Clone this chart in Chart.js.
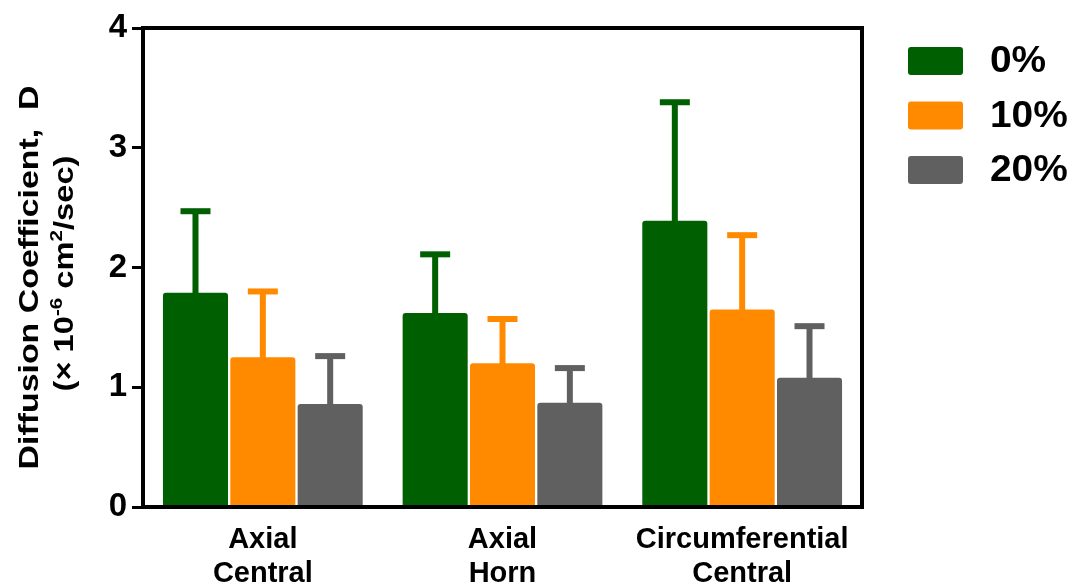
<!DOCTYPE html>
<html>
<head>
<meta charset="utf-8">
<script src="https://cdn.jsdelivr.net/npm/chart.js@4.4.1/dist/chart.umd.min.js"></script>
<style>
  html, body { margin: 0; padding: 0; background: #ffffff; }
  #wrap { width: 1072px; height: 587px; position: relative; }
</style>
</head>
<body>
<div id="wrap"><canvas id="chart" width="1072" height="587"></canvas></div>
<script>
// Sample groups along the x axis (two-line labels)
const categories = [['Axial', 'Central'], ['Axial', 'Horn'], ['Circumferential', 'Central']];
// Strain levels
const seriesLabels = ['0%', '10%', '20%'];
const seriesColors = ['#005f00', '#ff8a00', '#606060'];
// Mean diffusion coefficient (x10^-6 cm^2/sec) and standard deviation per strain level
const mean0 = [1.79, 1.62, 2.39];
const sd0 = [0.68, 0.49, 0.99];
const mean10 = [1.25, 1.20, 1.65];
const sd10 = [0.55, 0.37, 0.62];
const mean20 = [0.86, 0.87, 1.08];
const sd20 = [0.40, 0.29, 0.43];
const yTicks = [0, 1, 2, 3, 4];

const means = [mean0, mean10, mean20];
const sds = [sd0, sd10, sd20];
const FONT = "'Liberation Sans', Arial, Helvetica, sans-serif";

// Upward-only error bars with a flat cap
const errorBars = {
  id: 'errorBars',
  afterDatasetsDraw(chart) {
    const ctx = chart.ctx;
    const y = chart.scales.y;
    chart.data.datasets.forEach((ds, di) => {
      const meta = chart.getDatasetMeta(di);
      meta.data.forEach((bar, i) => {
        const top = y.getPixelForValue(ds.data[i] + ds.errorPlus[i]);
        ctx.save();
        ctx.fillStyle = ds.backgroundColor;
        ctx.fillRect(bar.x - 3, top, 6, bar.y - top + 1);
        ctx.fillRect(bar.x - 15, top - 3, 30, 6);
        ctx.restore();
      });
    });
  }
};

// Closed black frame around the plot area
const frame = {
  id: 'frame',
  afterDatasetsDraw(chart) {
    const { ctx, chartArea: a } = chart;
    ctx.save();
    ctx.strokeStyle = '#000';
    ctx.lineWidth = 4;
    ctx.strokeRect(a.left, a.top, a.right - a.left, a.bottom - a.top);
    ctx.restore();
  }
};

// Legend at the right with large swatches
const sideLegend = {
  id: 'sideLegend',
  afterDraw(chart) {
    const ctx = chart.ctx;
    ctx.save();
    chart.data.datasets.forEach((ds, i) => {
      const cy = 61 + i * 54.5;
      ctx.fillStyle = ds.backgroundColor;
      ctx.beginPath();
      ctx.roundRect(908, cy - 14, 55, 28, 3);
      ctx.fill();
      ctx.fillStyle = '#000';
      ctx.font = 'bold 37px ' + FONT;
      ctx.textBaseline = 'middle';
      ctx.textAlign = 'left';
      ctx.save();
      ctx.translate(990, cy + 1);
      ctx.scale(1.05, 1);
      ctx.fillText(ds.label, 0, 0);
      ctx.restore();
    });
    ctx.restore();
  }
};

// Rotated two-line y axis title with superscripts, set in a tall narrow face
const yTitle = {
  id: 'yTitle',
  afterDraw(chart) {
    const ctx = chart.ctx;
    const cy = (chart.chartArea.top + chart.chartArea.bottom) / 2 + 10;
    const stretch = 1.21;
    ctx.save();
    ctx.fillStyle = '#000';
    ctx.textBaseline = 'alphabetic';
    // first line
    ctx.save();
    ctx.translate(38, cy);
    ctx.rotate(-Math.PI / 2);
    ctx.scale(stretch, 1);
    ctx.font = 'bold 28px ' + FONT;
    ctx.textAlign = 'center';
    ctx.fillText('Diffusion Coefficient,  D', 0, 0);
    ctx.restore();
    // second line built from pieces
    const pieces = [
      { t: '(\u00d7 10', f: 'bold 27px ', dy: 0 },
      { t: '-6', f: 'bold 17px ', dy: -11 },
      { t: ' cm', f: 'bold 27px ', dy: 0 },
      { t: '2', f: 'bold 17px ', dy: -11 },
      { t: '/sec)', f: 'bold 27px ', dy: 0 }
    ];
    let total = 0;
    pieces.forEach(p => { ctx.font = p.f + FONT; p.w = ctx.measureText(p.t).width; total += p.w; });
    ctx.translate(73, cy - 4);
    ctx.rotate(-Math.PI / 2);
    ctx.scale(stretch, 1);
    ctx.textAlign = 'left';
    let x = -total / 2;
    pieces.forEach(p => { ctx.font = p.f + FONT; ctx.fillText(p.t, x, p.dy); x += p.w; });
    ctx.restore();
  }
};

new Chart(document.getElementById('chart'), {
  type: 'bar',
  data: {
    labels: categories,
    datasets: seriesLabels.map((label, i) => ({
      label: label,
      data: means[i],
      errorPlus: sds[i],
      backgroundColor: seriesColors[i],
      borderWidth: 0,
      borderRadius: 3,
      borderSkipped: 'bottom',
      categoryPercentage: 0.843,
      barPercentage: 0.966
    }))
  },
  options: {
    responsive: false,
    animation: false,
    events: [],
    layout: { padding: { top: 28, right: 210, left: 0, bottom: 0 } },
    plugins: { legend: { display: false }, tooltip: { enabled: false } },
    scales: {
      x: {
        afterFit(s) { s.height = 80; },
        grid: { display: false, drawTicks: false },
        border: { display: false },
        ticks: {
          color: '#000',
          padding: 16,
          maxRotation: 0,
          autoSkip: false,
          font: { family: FONT, size: 29, weight: 'bold', lineHeight: 34 / 29 }
        }
      },
      y: {
        min: 0,
        max: 4,
        afterFit(s) { s.width = 143; },
        afterBuildTicks(s) { s.ticks = yTicks.map(v => ({ value: v })); },
        grid: {
          drawOnChartArea: false,
          drawTicks: true,
          tickLength: 11,
          tickWidth: 3,
          tickColor: '#000'
        },
        border: { display: false },
        ticks: {
          color: '#000',
          padding: 5,
          font: { family: FONT, size: 33, weight: 'bold' }
        }
      }
    }
  },
  plugins: [errorBars, frame, sideLegend, yTitle]
});
</script>
</body>
</html>
